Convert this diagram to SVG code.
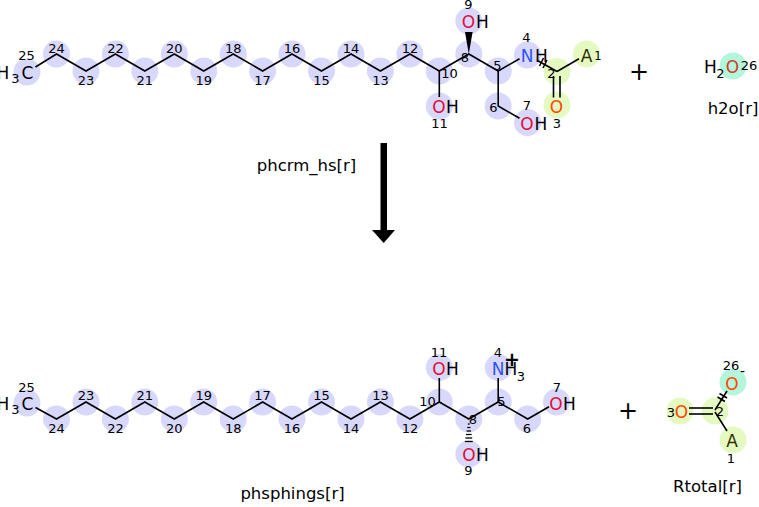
<svg xmlns="http://www.w3.org/2000/svg" width="759" height="507" viewBox="0 0 759 507">
<style>
text{font-family:"DejaVu Sans","Liberation Sans",sans-serif}
.hl{fill:#d8d8fc}
.hy{fill:#e4fac0}
.hc{fill:#b4f6dc}
.b{stroke:#000;stroke-width:1.6;fill:none;stroke-linejoin:miter}
.n{font-size:13px;fill:#000;text-anchor:middle}
.a{font-size:17px;fill:#000;text-anchor:middle}
.s{font-size:13px;fill:#000;text-anchor:middle}
.oh{fill:#e0103a}
.oo{fill:#ff4a00}
.ow{fill:#d23c2c}
.nb{fill:#3050f8}
.aa{fill:#2e2e00}
.lb{font-size:16.5px;fill:#000;text-anchor:middle}
.pl{font-size:24px;fill:#000;text-anchor:middle}
</style>
<rect width="759" height="507" fill="#fff"/>

<g id="phcrm_hs">
<g id="phcrm_hs-highlights">
<circle class="hl" cx="27" cy="72" r="13.5"/>
<circle class="hl" cx="56.5" cy="54" r="13.5"/>
<circle class="hl" cx="86" cy="71" r="13.5"/>
<circle class="hl" cx="115.4" cy="54" r="13.5"/>
<circle class="hl" cx="144.8" cy="71" r="13.5"/>
<circle class="hl" cx="174.3" cy="54" r="13.5"/>
<circle class="hl" cx="203.7" cy="71" r="13.5"/>
<circle class="hl" cx="233.2" cy="54" r="13.5"/>
<circle class="hl" cx="262.6" cy="71" r="13.5"/>
<circle class="hl" cx="292" cy="54" r="13.5"/>
<circle class="hl" cx="321.5" cy="71" r="13.5"/>
<circle class="hl" cx="351" cy="54" r="13.5"/>
<circle class="hl" cx="380.4" cy="71" r="13.5"/>
<circle class="hl" cx="409.9" cy="54" r="13.5"/>
<circle class="hl" cx="439.3" cy="71" r="13.5"/>
<circle class="hl" cx="468.8" cy="54" r="13.5"/>
<circle class="hl" cx="498.2" cy="71" r="13.5"/>
<circle class="hl" cx="498.2" cy="106" r="13.5"/>
<circle class="hl" cx="527.5" cy="122.5" r="13.5"/>
<circle class="hl" cx="527.5" cy="55" r="13.5"/>
<circle class="hl" cx="468.8" cy="21" r="13.5"/>
<circle class="hl" cx="439.3" cy="106" r="13.5"/>
<circle class="hy" cx="557" cy="71.5" r="13.5"/>
<circle class="hy" cx="586.5" cy="54" r="13.5"/>
<circle class="hy" cx="557" cy="105" r="13.5"/>
</g>
<g id="phcrm_hs-bonds">
<polyline class="b" points="35.5,67 56.5,54 86,71 115.4,54 144.8,71 174.3,54 203.7,71 233.2,54 262.6,71 292,54 321.5,71 351,54 380.4,71 409.9,54 439.3,71 468.8,54 498.2,71 519.5,58.7"/>
<polyline class="b" points="498.2,71 498.2,106 519.5,118.3"/>
<line class="b" x1="439.3" y1="71" x2="439.3" y2="97"/>
<polygon points="468.8,54 465,32 472.6,32" fill="#000"/>
<line class="b" x1="537" y1="60.3" x2="557" y2="71.5"/>
<line class="b" x1="557" y1="71.5" x2="579" y2="58.8"/>
<line class="b" x1="553.5" y1="76" x2="553.5" y2="97.5"/>
<line class="b" x1="560" y1="76" x2="560" y2="97.5"/>
<line class="b" x1="539.5" y1="66" x2="543.5" y2="58"/>
<line class="b" x1="543" y1="68" x2="547" y2="60"/>
</g>
<g id="phcrm_hs-atoms">
<text class="a" x="3" y="79">H</text>
<text class="s" x="15.5" y="83">3</text>
<text class="a" x="27.5" y="79">C</text>
<text class="a oh" x="468.5" y="28">O</text>
<text class="a" x="482.5" y="28">H</text>
<text class="a oh" x="439" y="113">O</text>
<text class="a" x="452.5" y="113">H</text>
<text class="a oh" x="527" y="130">O</text>
<text class="a" x="541" y="130">H</text>
<text class="a nb" x="527" y="62">N</text>
<text class="a" x="541.5" y="62">H</text>
<text class="a oo" x="556.5" y="113">O</text>
<text class="a aa" x="586.5" y="62">A</text>
</g>
<g id="phcrm_hs-numbers">
<text class="n" x="26.5" y="60">25</text>
<text class="n" x="56.5" y="53">24</text>
<text class="n" x="86" y="84.5">23</text>
<text class="n" x="115.4" y="53">22</text>
<text class="n" x="144.8" y="84.5">21</text>
<text class="n" x="174.3" y="53">20</text>
<text class="n" x="203.7" y="84.5">19</text>
<text class="n" x="233.2" y="53">18</text>
<text class="n" x="262.6" y="84.5">17</text>
<text class="n" x="292" y="53">16</text>
<text class="n" x="321.5" y="84.5">15</text>
<text class="n" x="351" y="53">14</text>
<text class="n" x="380.4" y="84.5">13</text>
<text class="n" x="409.9" y="53">12</text>
<text class="n" x="449.5" y="78">10</text>
<text class="n" x="465" y="62">8</text>
<text class="n" x="497.5" y="70">5</text>
<text class="n" x="493.5" y="112">6</text>
<text class="n" x="527" y="110">7</text>
<text class="n" x="468.5" y="9">9</text>
<text class="n" x="439.5" y="127.5">11</text>
<text class="n" x="526.5" y="42">4</text>
<text class="n" x="551.5" y="78">2</text>
<text class="n" x="557" y="127.5">3</text>
<text class="n" x="598" y="60" style="font-size:11.5px">1</text>
</g>
</g>

<g id="h2o">
<circle class="hc" cx="733" cy="66" r="13.5"/>
<text class="a" x="710.5" y="73">H</text>
<text class="s" x="720.5" y="78">2</text>
<text class="a ow" x="732.5" y="73">O</text>
<text class="n" x="749" y="70">26</text>
</g>

<g id="phsphings">
<g id="phsphings-highlights">
<circle class="hl" cx="27" cy="403" r="13.5"/>
<circle class="hl" cx="56.5" cy="419" r="13.5"/>
<circle class="hl" cx="86" cy="402" r="13.5"/>
<circle class="hl" cx="115.4" cy="419" r="13.5"/>
<circle class="hl" cx="144.8" cy="402" r="13.5"/>
<circle class="hl" cx="174.3" cy="419" r="13.5"/>
<circle class="hl" cx="203.7" cy="402" r="13.5"/>
<circle class="hl" cx="233.2" cy="419" r="13.5"/>
<circle class="hl" cx="262.6" cy="402" r="13.5"/>
<circle class="hl" cx="292" cy="419" r="13.5"/>
<circle class="hl" cx="321.5" cy="402" r="13.5"/>
<circle class="hl" cx="351" cy="419" r="13.5"/>
<circle class="hl" cx="380.4" cy="402" r="13.5"/>
<circle class="hl" cx="409.9" cy="419" r="13.5"/>
<circle class="hl" cx="439.3" cy="402" r="13.5"/>
<circle class="hl" cx="468.8" cy="419" r="13.5"/>
<circle class="hl" cx="498.2" cy="402" r="13.5"/>
<circle class="hl" cx="527.7" cy="419" r="13.5"/>
<circle class="hl" cx="556.5" cy="402" r="13.5"/>
<circle class="hl" cx="439.3" cy="367.5" r="13.5"/>
<circle class="hl" cx="498.2" cy="367.5" r="13.5"/>
<circle class="hl" cx="468.8" cy="454" r="13.5"/>
</g>
<g id="phsphings-bonds">
<polyline class="b" points="35.5,407.5 56.5,419 86,402 115.4,419 144.8,402 174.3,419 203.7,402 233.2,419 262.6,402 292,419 321.5,402 351,419 380.4,402 409.9,419 439.3,402 468.8,419 498.2,402 527.7,419 549,406.7"/>
<line class="b" x1="439.3" y1="402" x2="439.3" y2="378"/>
<line class="b" x1="498.2" y1="402" x2="498.2" y2="378"/>
<g stroke="#000" stroke-width="1.3">
<line x1="467.8" y1="424" x2="469.8" y2="424"/>
<line x1="467.2" y1="427.5" x2="470.4" y2="427.5"/>
<line x1="466.6" y1="431" x2="471" y2="431"/>
<line x1="466" y1="434.5" x2="471.6" y2="434.5"/>
<line x1="465.4" y1="438" x2="472.2" y2="438"/>
<line x1="464.8" y1="441.5" x2="472.8" y2="441.5"/>
</g>
</g>
<g id="phsphings-atoms">
<text class="a" x="3" y="410">H</text>
<text class="s" x="15.5" y="414">3</text>
<text class="a" x="27.5" y="410">C</text>
<text class="a oh" x="439" y="375">O</text>
<text class="a" x="452.5" y="375">H</text>
<text class="a nb" x="498" y="375">N</text>
<text class="a" x="511" y="375">H</text>
<text class="s" x="521" y="381">3</text>
<text x="512" y="365.5" style="font-size:19px;font-weight:bold" text-anchor="middle">+</text>
<text class="a oh" x="556" y="410">O</text>
<text class="a" x="569.5" y="410">H</text>
<text class="a oh" x="469" y="461">O</text>
<text class="a" x="482.5" y="461">H</text>
</g>
<g id="phsphings-numbers">
<text class="n" x="26.5" y="392">25</text>
<text class="n" x="56.5" y="432.5">24</text>
<text class="n" x="86" y="400">23</text>
<text class="n" x="115.4" y="432.5">22</text>
<text class="n" x="144.8" y="400">21</text>
<text class="n" x="174.3" y="432.5">20</text>
<text class="n" x="203.7" y="400">19</text>
<text class="n" x="233.2" y="432.5">18</text>
<text class="n" x="262.6" y="400">17</text>
<text class="n" x="292" y="432.5">16</text>
<text class="n" x="321.5" y="400">15</text>
<text class="n" x="351" y="432.5">14</text>
<text class="n" x="380.4" y="400">13</text>
<text class="n" x="409.9" y="432.5">12</text>
<text class="n" x="427.5" y="406">10</text>
<text class="n" x="473" y="424">8</text>
<text class="n" x="501.5" y="406">5</text>
<text class="n" x="527" y="432.5">6</text>
<text class="n" x="557" y="392">7</text>
<text class="n" x="439" y="357">11</text>
<text class="n" x="498" y="357">4</text>
<text class="n" x="468.5" y="474.5">9</text>
</g>
</g>

<g id="rtotal">
<circle class="hy" cx="680" cy="411" r="13.5"/>
<circle class="hy" cx="715" cy="411" r="13.5"/>
<circle class="hc" cx="733" cy="382" r="13.5"/>
<circle class="hy" cx="733" cy="440" r="13.5"/>
<line class="b" x1="689" y1="408" x2="713" y2="408"/>
<line class="b" x1="689" y1="414" x2="713" y2="414"/>
<line class="b" x1="715" y1="410" x2="727" y2="391"/>
<line class="b" x1="715" y1="412" x2="727" y2="431"/>
<line class="b" x1="717.5" y1="397" x2="725" y2="401.5"/>
<line class="b" x1="719.5" y1="393.5" x2="727" y2="398"/>
<text class="n" x="671" y="417">3</text>
<text class="a oo" x="681.5" y="417.5">O</text>
<text class="n" x="720" y="416">2</text>
<text class="a oo" x="732" y="390">O</text>
<text x="742.5" y="376" style="font-size:14px" text-anchor="middle">-</text>
<text class="n" x="731" y="370">26</text>
<text class="a aa" x="732" y="447">A</text>
<text class="n" x="731" y="462.5">1</text>
</g>

<g id="connectors">
<rect x="380.5" y="143" width="6.5" height="88" fill="#000"/>
<polygon points="372,230 395,230 383.7,243" fill="#000"/>
</g>

<g id="labels">
<text class="lb" x="306.5" y="171">phcrm_hs[r]</text>
<text class="lb" x="733" y="114">h2o[r]</text>
<text class="lb" x="292.5" y="499">phsphings[r]</text>
<text class="lb" x="707.5" y="492">Rtotal[r]</text>
<text class="pl" x="639" y="80">+</text>
<text class="pl" x="628" y="419">+</text>
</g>
</svg>
